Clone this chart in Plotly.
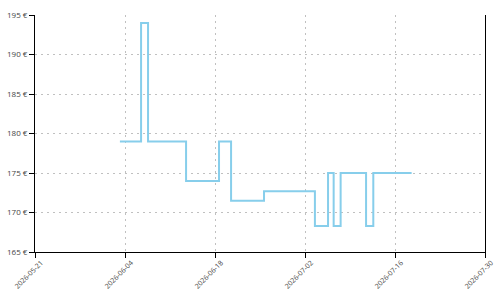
import plotly.graph_objects as go

dates = ["2026-06-03 05:00", "2026-06-06 12:00", "2026-06-07 14:00", "2026-06-13 12:00",
         "2026-06-18 15:00", "2026-06-20 12:00", "2026-06-25 15:00", "2026-07-03 13:00",
         "2026-07-05 14:00", "2026-07-06 11:00", "2026-07-07 13:00", "2026-07-11 12:00",
         "2026-07-12 15:00", "2026-07-18 14:00"]
prices = [179, 194, 179, 174, 179, 171.5, 172.7, 168.3, 175, 168.3, 175, 168.3, 175, 175]

tickvals = ["2026-05-21", "2026-06-04", "2026-06-18", "2026-07-02", "2026-07-16", "2026-07-30"]

fig = go.Figure()
fig.add_trace(go.Scatter(x=dates, y=prices, mode="lines", line_shape="hv",
                         line=dict(color="#87CEEB", width=2), hoverinfo="skip"))

fig.update_layout(
    width=500, height=300,
    margin=dict(l=35, r=15, t=15, b=48),
    paper_bgcolor="white", plot_bgcolor="white",
    showlegend=False,
    font=dict(family="Open Sans", size=8, color="#444"),
)
fig.update_xaxes(
    type="date", range=["2026-05-21", "2026-07-30"], automargin=False,
    tickmode="array", tickvals=tickvals, ticktext=tickvals, tickangle=-45,
    tickfont=dict(size=7), ticklabelshift=6, ticklabelstandoff=-2,
    showline=True, linecolor="black", linewidth=1,
    ticks="outside", ticklen=5, tickcolor="black",
    showgrid=True, gridcolor="#c0c0c0", griddash="2px,4px", gridwidth=1,
    zeroline=False,
)
fig.update_yaxes(
    range=[165, 195], dtick=5, ticksuffix=" €", automargin=False,
    showline=True, linecolor="black", linewidth=1, mirror=True,
    ticks="outside", ticklen=5, tickcolor="black",
    showgrid=True, gridcolor="#c0c0c0", griddash="2px,4px", gridwidth=1,
    zeroline=False,
)
fig.write_html("out.html")
